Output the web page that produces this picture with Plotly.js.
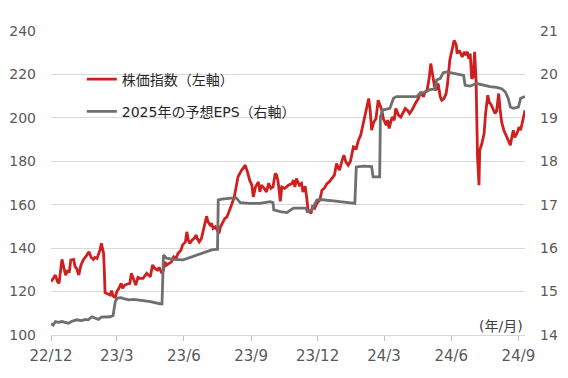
<!DOCTYPE html>
<html><head><meta charset="utf-8">
<script src="https://cdn.plot.ly/plotly-3.0.1.min.js"></script>
<style>html,body{margin:0;padding:0;background:#fff;}#chart{width:568px;height:378px;}</style>
</head><body><div id="chart"></div>
<script>
const indexDates = ["2022-12-01","2022-12-04","2022-12-07","2022-12-10","2022-12-12","2022-12-16","2022-12-18","2022-12-21","2022-12-24","2022-12-26","2022-12-28","2023-01-01","2023-01-03","2023-01-05","2023-01-08","2023-01-11","2023-01-14","2023-01-17","2023-01-19","2023-01-22","2023-01-25","2023-01-28","2023-01-30","2023-02-02","2023-02-04","2023-02-06","2023-02-08","2023-02-11","2023-02-12","2023-02-13","2023-02-17","2023-02-20","2023-02-22","2023-02-24","2023-02-27","2023-03-01","2023-03-04","2023-03-07","2023-03-09","2023-03-12","2023-03-16","2023-03-19","2023-03-21","2023-03-24","2023-03-27","2023-03-30","2023-04-02","2023-04-06","2023-04-11","2023-04-16","2023-04-19","2023-04-22","2023-04-26","2023-04-28","2023-05-02","2023-05-04","2023-05-06","2023-05-08","2023-05-12","2023-05-15","2023-05-18","2023-05-21","2023-05-24","2023-05-28","2023-05-30","2023-06-03","2023-06-05","2023-06-07","2023-06-09","2023-06-12","2023-06-15","2023-06-18","2023-06-19","2023-06-22","2023-06-25","2023-06-28","2023-06-30","2023-07-02","2023-07-04","2023-07-07","2023-07-09","2023-07-11","2023-07-14","2023-07-17","2023-07-19","2023-07-21","2023-07-24","2023-07-27","2023-07-30","2023-08-02","2023-08-05","2023-08-09","2023-08-11","2023-08-14","2023-08-19","2023-08-24","2023-08-27","2023-08-30","2023-09-02","2023-09-04","2023-09-07","2023-09-11","2023-09-13","2023-09-15","2023-09-19","2023-09-22","2023-09-25","2023-09-28","2023-10-01","2023-10-04","2023-10-06","2023-10-08","2023-10-11","2023-10-13","2023-10-17","2023-10-22","2023-10-27","2023-10-29","2023-10-31","2023-11-02","2023-11-06","2023-11-09","2023-11-11","2023-11-14","2023-11-16","2023-11-18","2023-11-22","2023-11-24","2023-11-27","2023-11-30","2023-12-04","2023-12-07","2023-12-10","2023-12-14","2023-12-17","2023-12-20","2023-12-24","2023-12-27","2023-12-31","2024-01-03","2024-01-06","2024-01-09","2024-01-12","2024-01-15","2024-01-19","2024-01-23","2024-01-26","2024-01-29","2024-02-01","2024-02-04","2024-02-06","2024-02-09","2024-02-11","2024-02-13","2024-02-16","2024-02-19","2024-02-22","2024-02-25","2024-02-27","2024-02-29","2024-03-04","2024-03-06","2024-03-08","2024-03-12","2024-03-15","2024-03-17","2024-03-21","2024-03-24","2024-03-27","2024-03-30","2024-04-02","2024-04-05","2024-04-08","2024-04-10","2024-04-14","2024-04-17","2024-04-20","2024-04-24","2024-04-26","2024-04-29","2024-05-02","2024-05-04","2024-05-06","2024-05-08","2024-05-10","2024-05-12","2024-05-14","2024-05-17","2024-05-19","2024-05-22","2024-05-25","2024-05-27","2024-05-29","2024-05-30","2024-06-02","2024-06-04","2024-06-05","2024-06-08","2024-06-09","2024-06-12","2024-06-14","2024-06-16","2024-06-19","2024-06-21","2024-06-23","2024-06-25","2024-06-27","2024-06-29","2024-07-01","2024-07-03","2024-07-05","2024-07-06","2024-07-07","2024-07-09","2024-07-10","2024-07-13","2024-07-16","2024-07-18","2024-07-21","2024-07-23","2024-07-26","2024-07-29","2024-07-31","2024-08-02","2024-08-05","2024-08-07","2024-08-09","2024-08-12","2024-08-15","2024-08-18","2024-08-21","2024-08-23","2024-08-25","2024-08-27","2024-08-30","2024-09-02","2024-09-04","2024-09-07","2024-09-10"];
const indexValues = [124.5,126.1,127.6,124.5,123.8,134.8,131.4,127.6,129.9,128.7,134.5,134.8,131.4,130.7,127.6,132.2,134.5,135.7,136.8,138.3,135.7,134.8,135.7,135.3,136.8,139.1,142.2,137.6,129.9,119.5,118.9,118.4,120.4,117.9,117.3,119.9,121.5,123.8,121.5,123.0,123.5,123.8,128.4,125.3,123.0,126.5,126.1,126.1,128.4,126.8,132.2,130.7,129.9,131.1,128.4,129.9,133.7,132.2,133.0,133.7,136.0,135.3,137.6,139.1,141.4,142.9,147.5,143.7,142.2,143.7,144.5,146.0,144.5,142.9,144.5,149.1,152.9,154.7,152.1,150.6,151.4,149.1,149.8,147.5,146.8,149.8,152.1,153.7,154.4,156.7,159.8,163.6,167.5,172.8,175.9,178.2,175.1,171.3,169.0,163.6,168.2,170.5,165.9,169.0,167.5,165.9,169.8,167.5,168.2,174.4,173.6,170.5,161.5,168.2,167.5,169.0,169.8,171.3,168.2,172.1,169.0,169.8,165.9,168.5,163.6,157.5,156.0,159.0,158.3,160.6,162.1,166.7,167.5,169.8,170.5,172.1,173.6,179.0,175.9,179.7,182.8,179.5,178.2,180.0,186.6,185.9,189.7,192.0,196.6,199.7,203.5,208.9,203.5,194.3,198.1,199.7,208.1,205.8,203.5,199.7,196.6,199.0,195.1,200.4,198.9,204.3,201.2,200.4,202.7,204.3,203.5,202.0,203.5,205.0,207.3,208.9,211.9,209.7,211.9,212.7,218.8,225.0,220.3,217.3,212.7,213.5,215.8,209.7,208.1,208.9,211.2,215.8,223.4,226.5,231.1,233.4,235.7,233.4,229.6,231.1,229.6,228.1,230.4,228.8,230.4,227.3,229.6,218.1,218.8,230.4,217.3,198.9,182.0,169.0,185.1,188.2,192.8,202.0,210.4,207.3,205.8,203.5,202.0,203.0,211.2,203.5,198.1,194.3,192.0,189.7,187.4,191.2,194.3,191.0,192.8,195.8,194.3,198.9,203.5];

const epsDates = ["2022-12-01","2022-12-04","2022-12-07","2022-12-11","2022-12-16","2022-12-20","2022-12-25","2022-12-29","2023-01-05","2023-01-12","2023-01-17","2023-01-21","2023-01-26","2023-01-30","2023-02-04","2023-02-08","2023-02-15","2023-02-20","2023-02-24","2023-02-27","2023-03-02","2023-03-07","2023-03-12","2023-03-18","2023-03-24","2023-03-31","2023-04-06","2023-04-16","2023-04-25","2023-04-29","2023-05-02","2023-05-04","2023-05-08","2023-05-17","2023-05-31","2023-06-07","2023-06-14","2023-06-21","2023-07-02","2023-07-09","2023-07-15","2023-07-17","2023-07-18","2023-07-23","2023-08-05","2023-08-12","2023-08-17","2023-08-30","2023-09-13","2023-09-27","2023-10-01","2023-10-02","2023-10-11","2023-10-20","2023-10-29","2023-11-15","2023-11-17","2023-11-23","2023-11-30","2023-12-04","2023-12-23","2024-01-01","2024-01-10","2024-01-21","2024-01-23","2024-02-02","2024-02-13","2024-02-15","2024-02-24","2024-02-25","2024-02-28","2024-03-09","2024-03-14","2024-03-18","2024-04-15","2024-04-19","2024-04-28","2024-05-03","2024-05-10","2024-05-12","2024-05-17","2024-05-21","2024-05-26","2024-06-06","2024-06-18","2024-06-20","2024-06-27","2024-07-06","2024-07-15","2024-07-24","2024-08-02","2024-08-09","2024-08-14","2024-08-18","2024-08-21","2024-08-25","2024-09-01","2024-09-04","2024-09-10"];
const epsValues = [14.26,14.23,14.31,14.29,14.31,14.29,14.27,14.31,14.35,14.33,14.36,14.35,14.42,14.39,14.36,14.41,14.42,14.42,14.45,14.77,14.85,14.86,14.83,14.81,14.82,14.81,14.79,14.77,14.73,14.72,14.72,15.84,15.77,15.74,15.73,15.77,15.80,15.84,15.92,15.96,15.97,15.97,17.11,17.13,17.15,17.15,17.05,17.03,17.03,17.07,17.05,16.88,16.84,16.82,16.92,16.92,16.84,16.88,17.11,17.12,17.09,17.07,17.05,17.03,17.87,17.89,17.88,17.64,17.64,19.02,19.18,19.22,19.45,19.49,19.49,19.56,19.60,19.65,19.67,19.87,19.91,20.04,20.06,20.02,19.98,19.75,19.73,19.79,19.75,19.72,19.70,19.67,19.60,19.45,19.25,19.22,19.25,19.45,19.49];

const seriesNames = ["株価指数（左軸）", "2025年の予想EPS（右軸）"];
const xTickVals = ["2022-12-01","2023-03-01","2023-06-01","2023-09-01","2023-12-01","2024-03-01","2024-06-01","2024-09-01"];
const xTickText = ["22/12","23/3","23/6","23/9","23/12","24/3","24/6","24/9"];
const xRange = ["2022-12-01","2024-09-10"];
const leftRange = [100, 240];
const rightRange = [14, 21];
const unitLabel = "(年/月)";

const FONT = "DejaVu Sans, 'Noto Sans CJK JP', sans-serif";
const data = [
  {x: indexDates, y: indexValues, name: seriesNames[0], type: "scatter", mode: "lines",
   line: {color: "#CF1F1F", width: 2.8}, yaxis: "y", legendgroup: "a"},
  {x: epsDates, y: epsValues, name: seriesNames[1], type: "scatter", mode: "lines",
   line: {color: "#6F6F6F", width: 2.8}, yaxis: "y2", legendgroup: "b"}
];
const layout = {
  width: 568, height: 378,
  margin: {l: 51, r: 43, t: 31, b: 43},
  paper_bgcolor: "#fff", plot_bgcolor: "#fff",
  font: {family: FONT, size: 14, color: "#595959"},
  showlegend: true,
  legend: {x: 0.065, y: 0.893, xanchor: "left", yanchor: "top", bgcolor: "rgba(0,0,0,0)",
    font: {family: FONT, size: 14, color: "#262626"}, tracegroupgap: 11, traceorder: "grouped"},
  xaxis: {type: "date", range: xRange, tickvals: xTickVals, ticktext: xTickText,
    showgrid: false, zeroline: false, showline: true, linecolor: "#d9d9d9", linewidth: 1,
    ticks: "outside", ticklen: 5, tickcolor: "#bfbfbf", ticklabelstandoff: 2,
    tickfont: {size: 15, color: "#595959"}},
  yaxis: {range: leftRange, dtick: 20, showgrid: true, gridcolor: "#d9d9d9", gridwidth: 1,
    zeroline: false, showline: false, ticks: "", ticklabelstandoff: 14, tickfont: {size: 14, color: "#595959"}},
  yaxis2: {range: rightRange, dtick: 1, overlaying: "y", side: "right", showgrid: false,
    zeroline: false, showline: false, ticks: "", ticklabelstandoff: 14, tickfont: {size: 14, color: "#595959"}},
  annotations: [{text: unitLabel, xref: "paper", yref: "paper", x: 1.0, y: 0.03, xanchor: "right", yanchor: "middle",
    showarrow: false, font: {family: FONT, size: 14, color: "#404040"}}]
};
Plotly.newPlot("chart", data, layout, {displayModeBar: false, staticPlot: true});
</script></body></html>
